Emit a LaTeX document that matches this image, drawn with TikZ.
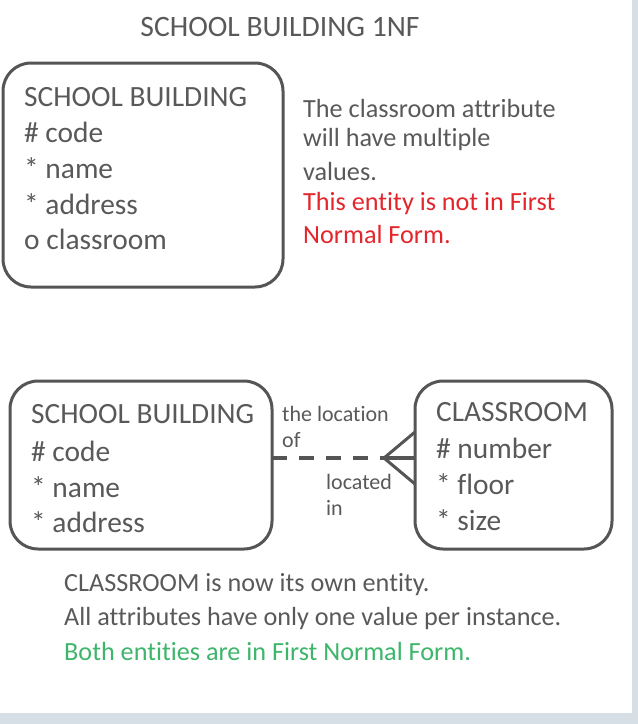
\documentclass[tikz,border=0pt]{standalone}
\usepackage{fontspec}
\setmainfont{Carlito}[Ligatures={NoCommon}]
\definecolor{txt}{HTML}{595959}
\definecolor{edge}{HTML}{555555}
\definecolor{redt}{HTML}{E3262C}
\definecolor{greent}{HTML}{3DB56A}
\definecolor{strip}{HTML}{D5DFE5}
\begin{document}
\begin{tikzpicture}[x=1pt,y=-1pt,
  entity/.style={draw=edge,line width=3pt,rounded corners=28pt},
  lbl/.style={anchor=west,inner sep=0pt,text=txt},
  big/.style={lbl,font=\fontsize{29.4}{34}\selectfont},
  note/.style={lbl,font=\fontsize{26.2}{30}\selectfont},
  small/.style={lbl,font=\fontsize{22}{26}\selectfont},
  rel/.style={draw=edge,line width=3.6pt}]
\useasboundingbox (0,0) rectangle (638,724);
\fill[strip] (632,0) rectangle (638,724);
\fill[strip] (0,713) rectangle (638,724);
% title
\node[inner sep=0pt,text=txt,font=\fontsize{29.6}{34}\selectfont] (title) at (280,27) {SCHOOL BUILDING 1NF};
% box 1
\draw[entity] (3,63) rectangle (283,287);
\node[big] (a1) at (24,97) {SCHOOL BUILDING};
\node[big] (a2) at (24,132) {\# code};
\node[big] (a3) at (24,168) {* name};
\node[big] (a4) at (24,204) {* address};
\node[big] (a5) at (24,239) {o classroom};
% note
\node[note] (n1) at (303,108) {The classroom attribute};
\node[note] (n2) at (303,140) {will have multiple};
\node[note] (n3) at (303,172) {values.};
\node[note,text=redt] (n4) at (303,204) {This entity is not in First};
\node[note,text=redt] (n5) at (303,235) {Normal Form.};
% box 2
\draw[entity] (10,381) rectangle (272,549);
\coordinate (b2e) at (272,458);
\node[big] (b1) at (31,414) {SCHOOL BUILDING};
\node[big] (b2) at (31,451) {\# code};
\node[big] (b3) at (31,487) {* name};
\node[big] (b4) at (31,522) {* address};
% box 3
\draw[entity] (415,381) rectangle (612,549);
\coordinate (c3e) at (415,458);
\coordinate (c3u) at (415,432);
\coordinate (c3d) at (415,484);
\node[big] (c1) at (436,412) {CLASSROOM};
\node[big] (c2) at (436,448) {\# number};
\node[big] (c3) at (436,484) {* floor};
\node[big] (c4) at (436,520) {* size};
% relationship
\coordinate (apex) at (384,458);
\draw[rel,dash pattern=on 15pt off 12pt] (b2e) -- (apex);
\draw[rel] (apex) -- (c3e);
\draw[edge,line width=3pt] (c3u) -- (apex) -- (c3d);
\node[small] (r1) at (282,414) {the location};
\node[small] (r2) at (282,440) {of};
\node[small] (r3) at (326,482) {located};
\node[small] (r4) at (326,508) {in};
% bottom notes
\node[note] (m1) at (64,585) {CLASSROOM is now its own entity.};
\node[note] (m2) at (64,619) {All attributes have only one value per instance.};
\node[note,text=greent] (m3) at (64,651) {Both entities are in First Normal Form.};
\end{tikzpicture}
\end{document}
